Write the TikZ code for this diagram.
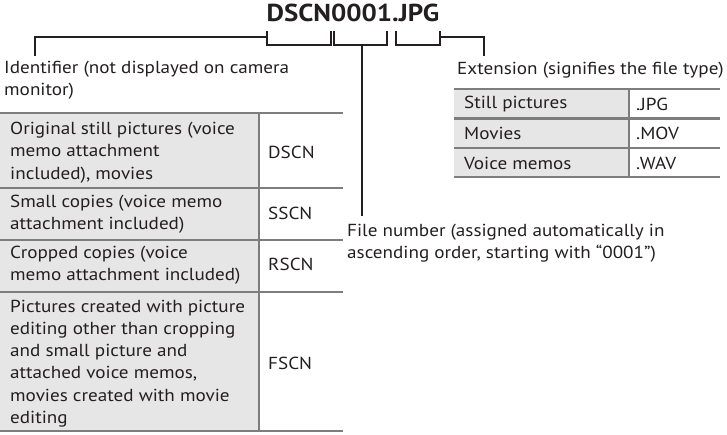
\documentclass[tikz,border=0pt]{standalone}
\usepackage{fontspec}
\setmainfont{PT Sans}[FakeStretch=1.1]
\definecolor{rulegray}{HTML}{7D7D7D}
\definecolor{cellgray}{HTML}{E6E6E6}
\definecolor{ink}{HTML}{231F20}
\begin{document}
\begin{tikzpicture}[x=1pt,y=-1pt,
  txt/.style={font=\fontsize{17.4}{22.3}\selectfont, text=ink, inner sep=0pt, anchor=west, align=left},
  rulel/.style={draw=rulegray, line width=2.6pt},
  lead/.style={draw=ink, line width=1.7pt}]
\useasboundingbox (0,0) rectangle (727,435);
% title
\node[font=\fontsize{24.5}{30}\selectfont\bfseries, text=ink, inner sep=0pt, anchor=base] (title) at (353,22) {DSCN0001.JPG};
% brackets
\coordinate (idend) at (35,56);
\coordinate (exend) at (484,56);
\coordinate (fnend) at (362,216);
\draw[lead] (267,31) -- (267,45) -- (331,45) -- (331,31);
\draw[lead] (334,31) -- (334,45) -- (387,45) -- (387,31);
\draw[lead] (396,31) -- (396,45) -- (440,45) -- (440,31);
\coordinate (idb) at (267,37);
\coordinate (exb) at (440,37);
\coordinate (fnb) at (362,45);
\draw[lead] (idb) -| (idend);
\draw[lead] (exb) -| (exend);
\draw[lead] (fnb) -- (fnend);
% labels
\node[txt] (idlabel) at (4,80.5) {Identifier (not displayed on camera\\monitor)};
\node[txt] (exlabel) at (457,70) {Extension (signifies the file type)};
\node[txt] (fnlabel) at (347,243) {File number (assigned automatically in\\ascending order, starting with “0001”)};
% left table
\fill[cellgray] (0,113) rectangle (259,431);
\draw[rulel] (0,113) -- (343,113);
\draw[rulel] (0,188) -- (343,188);
\draw[rulel] (0,240) -- (343,240);
\draw[rulel] (0,292) -- (343,292);
\draw[rulel] (0,431) -- (343,431);
\draw[rulel] (259,113) -- (259,431);
\node[txt] (r1a) at (10,152.5) {Original still pictures (voice\\memo attachment\\included), movies};
\node[txt] (r1b) at (268,152.5) {DSCN};
\node[txt] (r2a) at (10,214) {Small copies (voice memo\\attachment included)};
\node[txt] (r2b) at (268,213) {SSCN};
\node[txt] (r3a) at (10,265) {Cropped copies (voice\\memo attachment included)};
\node[txt] (r3b) at (268,264) {RSCN};
\node[txt] (r4a) at (10,363.5) {Pictures created with picture\\editing other than cropping\\and small picture and\\attached voice memos,\\movies created with movie\\editing};
\node[txt] (r4b) at (268,363) {FSCN};
% right table
\fill[cellgray] (454,89) rectangle (629,177);
\draw[rulel] (454,89) -- (720,89);
\draw[rulel] (454,118.5) -- (720,118.5);
\draw[rulel] (454,148) -- (720,148);
\draw[rulel] (454,177) -- (720,177);
\draw[rulel] (629,89) -- (629,177);
\node[txt] (s1a) at (464,104) {Still pictures};
\node[txt] (s1b) at (636,104) {.JPG};
\node[txt] (s2a) at (464,133.5) {Movies};
\node[txt] (s2b) at (636,133.5) {.MOV};
\node[txt] (s3a) at (464,163) {Voice memos};
\node[txt] (s3b) at (636,163) {.WAV};
\end{tikzpicture}
\end{document}
